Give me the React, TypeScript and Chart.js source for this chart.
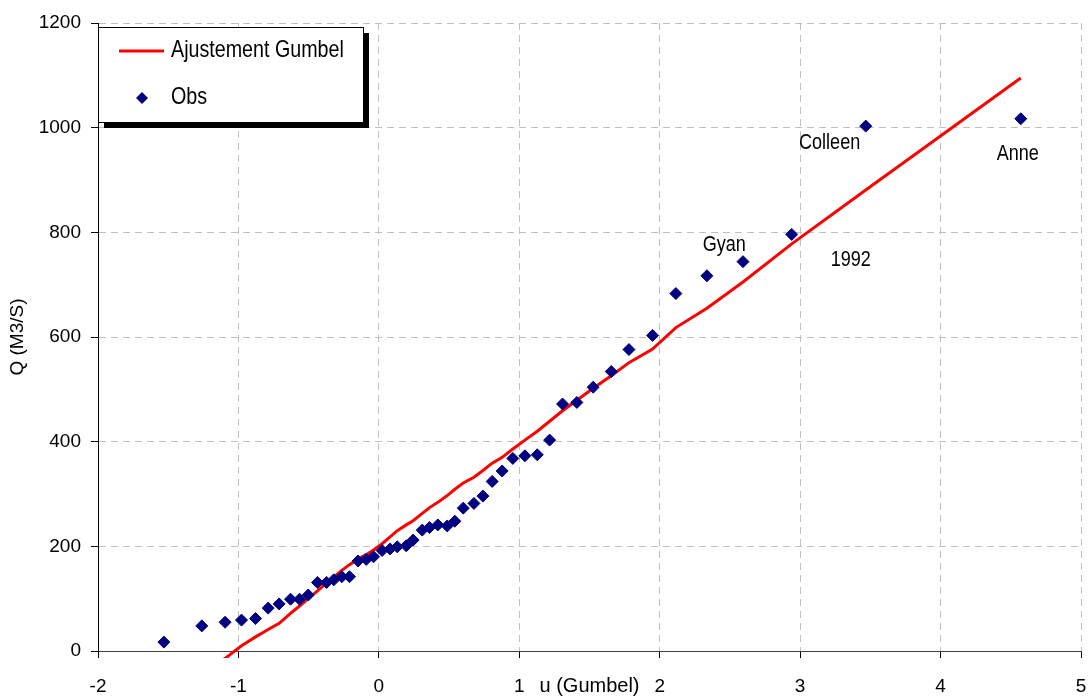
import { useEffect, useRef } from "react";
import { Chart, registerables } from "chart.js";

Chart.register(...registerables);

// Gumbel reduced variate of each ranked observation
const uObs = [
  -1.531, -1.261, -1.095, -0.978, -0.878, -0.788, -0.71, -0.629, -0.565, -0.503,
  -0.437, -0.372, -0.321, -0.264, -0.209, -0.148, -0.09, -0.038, 0.023, 0.08,
  0.131, 0.195, 0.244, 0.309, 0.361, 0.42, 0.487, 0.541, 0.601, 0.677,
  0.741, 0.807, 0.878, 0.954, 1.04, 1.128, 1.216, 1.308, 1.41, 1.526,
  1.655, 1.781, 1.949, 2.115, 2.336, 2.593, 2.94, 3.467, 4.571,
];

// Observed annual peak discharges (m3/s)
const qObs = [
  17, 48, 55, 59, 62, 82, 90, 99, 99, 107,
  131, 131, 136, 142, 142, 172, 175, 180, 192, 195,
  199, 201, 212, 231, 236, 241, 239, 248, 273, 282,
  296, 324, 344, 368, 373, 375, 403, 472, 475, 504,
  534, 576, 603, 683, 717, 744, 796, 1003, 1017,
];

// Gumbel fitted discharges at the same variates
const qFit = [
  -96, -45, -14, 10, 27, 41, 53, 72, 86, 100,
  115, 130, 141, 154, 165, 176, 184, 193, 205, 218,
  230, 241, 249, 263, 274, 284, 297, 309, 321, 332,
  345, 359, 370, 386, 403, 420, 439, 459, 479, 502,
  526, 551, 577, 618, 655, 705, 778, 881, 1095,
];

// Event names written next to the largest floods
const noteText = ["Colleen", "Anne", "Gyan", "1992"];
const noteU = [3.21, 4.55, 2.46, 3.36];
const noteQ = [959, 938, 765, 736];

const FONT = '"Liberation Sans", Arial, sans-serif';
const NAVY = "#000080";
const RED = "#ff0000";

// Condensed text: regular face squeezed horizontally
function narrowText(
  ctx: CanvasRenderingContext2D,
  text: string,
  x: number,
  y: number,
  align: CanvasTextAlign,
  baseline: CanvasTextBaseline,
  size: number
) {
  ctx.save();
  ctx.translate(x, y);
  ctx.scale(0.82, 1);
  ctx.font = `${size}px ${FONT}`;
  ctx.textAlign = align;
  ctx.textBaseline = baseline;
  ctx.fillStyle = "#000";
  ctx.fillText(text, 0, 0);
  ctx.restore();
}

const notesPlugin = {
  id: "floodNotes",
  afterDatasetsDraw(chart: any) {
    const { ctx, scales } = chart;
    noteText.forEach((t, i) => {
      narrowText(
        ctx,
        t,
        scales.x.getPixelForValue(noteU[i]),
        scales.y.getPixelForValue(noteQ[i]),
        "center",
        "alphabetic",
        22
      );
    });
  },
};

const boxLegendPlugin = {
  id: "boxLegend",
  afterDraw(chart: any) {
    const { ctx, chartArea } = chart;
    const ds = chart.data.datasets;
    const x = chartArea.left;
    const y = chartArea.top + 4;
    const w = 265;
    const h = 95;
    ctx.save();
    ctx.fillStyle = "#000";
    ctx.fillRect(x + 6, y + 6, w, h);
    ctx.fillStyle = "#fff";
    ctx.fillRect(x, y, w, h);
    ctx.strokeStyle = "#000";
    ctx.lineWidth = 1;
    ctx.strokeRect(x + 0.5, y + 0.5, w, h);

    // fitted line entry
    ctx.strokeStyle = ds[1].borderColor;
    ctx.lineWidth = 3;
    ctx.beginPath();
    ctx.moveTo(x + 21, y + 24);
    ctx.lineTo(x + 66, y + 24);
    ctx.stroke();

    // observations entry
    const cx = x + 44;
    const cy = y + 71;
    const r = 6;
    ctx.fillStyle = ds[0].backgroundColor;
    ctx.beginPath();
    ctx.moveTo(cx - r, cy);
    ctx.lineTo(cx, cy - r);
    ctx.lineTo(cx + r, cy);
    ctx.lineTo(cx, cy + r);
    ctx.closePath();
    ctx.fill();
    ctx.restore();

    narrowText(ctx, ds[1].label, x + 73, y + 23, "left", "middle", 24);
    narrowText(ctx, ds[0].label, x + 73, y + 70, "left", "middle", 24);
  },
};

export default function App() {
  const canvasRef = useRef<HTMLCanvasElement | null>(null);

  useEffect(() => {
    if (!canvasRef.current) return;
    const chart = new Chart(canvasRef.current, {
      type: "scatter",
      data: {
        datasets: [
          {
            label: "Obs",
            data: uObs.map((u, i) => ({ x: u, y: qObs[i] })),
            backgroundColor: NAVY,
            borderColor: NAVY,
            pointStyle: "rectRot",
            pointRadius: 6,
            borderWidth: 1,
            order: 0,
          },
          {
            label: "Ajustement Gumbel",
            data: uObs.map((u, i) => ({ x: u, y: qFit[i] })),
            showLine: true,
            borderColor: RED,
            backgroundColor: RED,
            borderWidth: 3,
            pointRadius: 0,
            tension: 0,
            clip: { left: 0, top: 0, right: 0, bottom: 7 },
            order: 1,
          },
        ],
      },
      options: {
        animation: false,
        responsive: true,
        maintainAspectRatio: false,
        layout: { padding: { left: 0, right: 7, top: 23, bottom: 0 } },
        plugins: {
          legend: { display: false },
          tooltip: { enabled: false },
        },
        scales: {
          x: {
            type: "linear",
            min: -2,
            max: 5,
            afterFit: (scale: any) => {
              scale.height = 48;
              scale.paddingLeft = 0;
              scale.paddingRight = 0;
            },
            ticks: {
              stepSize: 1,
              color: "#000",
              padding: 17,
              font: { family: FONT, size: 19 },
              callback: (v: any) => String(v),
            },
            grid: {
              color: "#c0c0c0",
              lineWidth: 1,
              tickLength: 7,
              tickColor: "#000",
              tickBorderDash: [],
            },
            border: { display: true, color: "#404040", width: 1, dash: [7, 5] },
            title: {
              display: true,
              text: "u (Gumbel)",
              color: "#000",
              font: { family: FONT, size: 20 },
              padding: { top: 0, bottom: 1 },
            },
          },
          y: {
            type: "linear",
            min: 0,
            max: 1200,
            afterFit: (scale: any) => {
              scale.width = 98;
              scale.paddingTop = 0;
              scale.paddingBottom = 0;
            },
            ticks: {
              stepSize: 200,
              color: "#000",
              padding: 10,
              font: { family: FONT, size: 19 },
              callback: (v: any) => String(v),
            },
            grid: {
              color: "#c0c0c0",
              lineWidth: 1,
              tickLength: 7,
              tickColor: "#000",
              tickBorderDash: [],
            },
            border: { display: true, color: "#000", width: 1, dash: [7, 5] },
            title: {
              display: true,
              text: "Q (M3/S)",
              color: "#000",
              font: { family: FONT, size: 19 },
              padding: { top: 6, bottom: 0 },
            },
          },
        },
      },
      plugins: [notesPlugin, boxLegendPlugin],
    } as any);
    return () => chart.destroy();
  }, []);

  return (
    <div style={{ position: "fixed", left: 0, top: 0, width: 1088, height: 699, background: "#fff" }}>
      <canvas ref={canvasRef} />
    </div>
  );
}
